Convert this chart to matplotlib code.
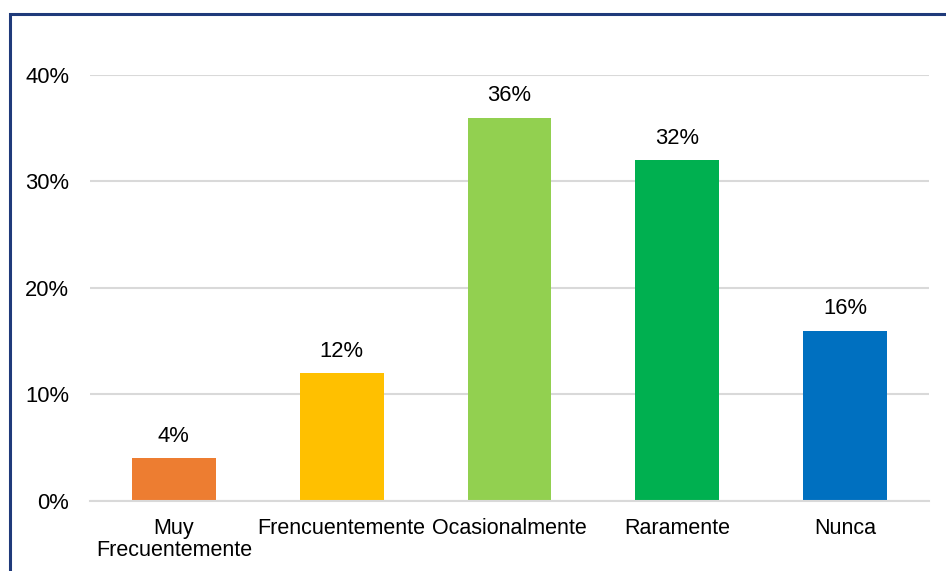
import matplotlib
matplotlib.use('Agg')
import matplotlib.pyplot as plt
from matplotlib.patches import Rectangle
from matplotlib.ticker import PercentFormatter

plt.rcParams['font.family'] = ['Liberation Sans', 'DejaVu Sans']

categorias = ['Muy\nFrecuentemente', 'Frencuentemente', 'Ocasionalmente', 'Raramente', 'Nunca']
porcentajes = [4, 12, 36, 32, 16]
colores = ['#ED7D31', '#FFC000', '#92D050', '#00B050', '#0070C0']
ticks_y = [0, 10, 20, 30, 40]

fig = plt.figure(figsize=(9.46, 5.71), dpi=100)
ax = fig.add_axes([0.0951, 0.1226, 0.8869, 0.7461])

x = range(len(categorias))
barras = ax.bar(x, porcentajes, width=0.5, color=colores, zorder=3)

for b, v in zip(barras, porcentajes):
    ax.annotate(f'{v}%', (b.get_x() + b.get_width() / 2, v),
                xytext=(0, 8), textcoords='offset points',
                ha='center', va='bottom', fontsize=15.8, color='#000000')

ax.set_xlim(-0.5, len(categorias) - 0.5)
ax.set_ylim(0, 40)
ax.set_yticks(ticks_y)
ax.yaxis.set_major_formatter(PercentFormatter(decimals=0))
ax.set_xticks(list(x))
ax.set_xticklabels(categorias, linespacing=1.1)
ax.tick_params(axis='y', length=0, pad=15, labelsize=15.8)
ax.tick_params(axis='x', length=0, pad=12, labelsize=15.5)

ax.grid(axis='y', color='#D9D9D9', linewidth=1.5, zorder=0)
for lado in ['top', 'right', 'left']:
    ax.spines[lado].set_visible(False)
ax.spines['bottom'].set_color('#D9D9D9')
ax.spines['bottom'].set_linewidth(1.5)
ax.spines['bottom'].set_zorder(4)

# marco del recuadro del gráfico
marco = Rectangle((9.5 / 946, -0.1), 1.2, 1.1 - 14 / 571,
                  transform=fig.transFigure, fill=False,
                  edgecolor='#1F3A7A', linewidth=2.2)
fig.patches.append(marco)

fig.savefig('out.png', dpi=100)
